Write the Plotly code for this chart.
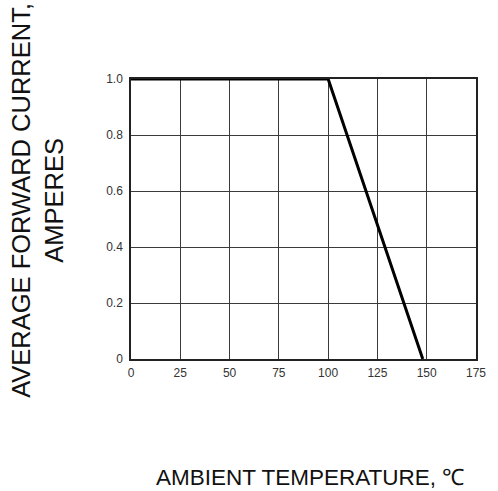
import plotly.graph_objects as go

temperature = [0, 100, 148]
current = [1.0, 1.0, 0.0]
x_ticks = [0, 25, 50, 75, 100, 125, 150, 175]
x_tick_labels = ["0", "25", "50", "75", "100", "125", "150", "175"]
y_ticks = [0, 0.2, 0.4, 0.6, 0.8, 1.0]
y_tick_labels = ["0", "0.2", "0.4", "0.6", "0.8", "1.0"]

fig = go.Figure()
fig.add_trace(go.Scatter(x=temperature, y=current, mode="lines",
                         line=dict(color="black", width=3), showlegend=False,
                         hoverinfo="skip"))

font_family = "Liberation Sans, Arial, sans-serif"

fig.update_layout(
    width=498, height=491,
    margin=dict(l=131, r=19, t=79, b=132),
    paper_bgcolor="white", plot_bgcolor="white",
    font=dict(family=font_family, color="#222"),
    xaxis=dict(range=[0, 175], tickvals=x_ticks, ticktext=x_tick_labels,
               showgrid=True, gridcolor="#3a3a3a", gridwidth=1,
               showline=True, linecolor="#222", linewidth=1.5, mirror=True,
               zeroline=False, ticks="", ticklen=0, ticklabelstandoff=2,
               tickfont=dict(size=12, family=font_family, color="#333")),
    yaxis=dict(range=[0, 1.0], tickvals=y_ticks, ticktext=y_tick_labels,
               showgrid=True, gridcolor="#3a3a3a", gridwidth=1,
               showline=True, linecolor="#222", linewidth=1.5, mirror=True,
               zeroline=False, ticks="", ticklen=0, ticklabelstandoff=4,
               tickfont=dict(size=12, family=font_family, color="#333")),
    annotations=[
        dict(text="AVERAGE FORWARD CURRENT,<br>AMPERES", textangle=-90,
             xref="paper", yref="paper", x=-0.27, y=0.568,
             xanchor="center", yanchor="middle", showarrow=False,
             font=dict(size=25.5, family=font_family, color="#111")),
        dict(text="AMBIENT TEMPERATURE, ℃",
             xref="paper", yref="paper", x=0.52, y=-0.422,
             xanchor="center", yanchor="middle", showarrow=False,
             font=dict(size=22.5, family=font_family, color="#111")),
    ],
)

post = ("document.body.style.margin='0';"
        "document.body.style.padding='0';"
        "document.body.style.overflow='hidden';")

fig.write_html("out.html", config={"displayModeBar": False}, post_script=post)
